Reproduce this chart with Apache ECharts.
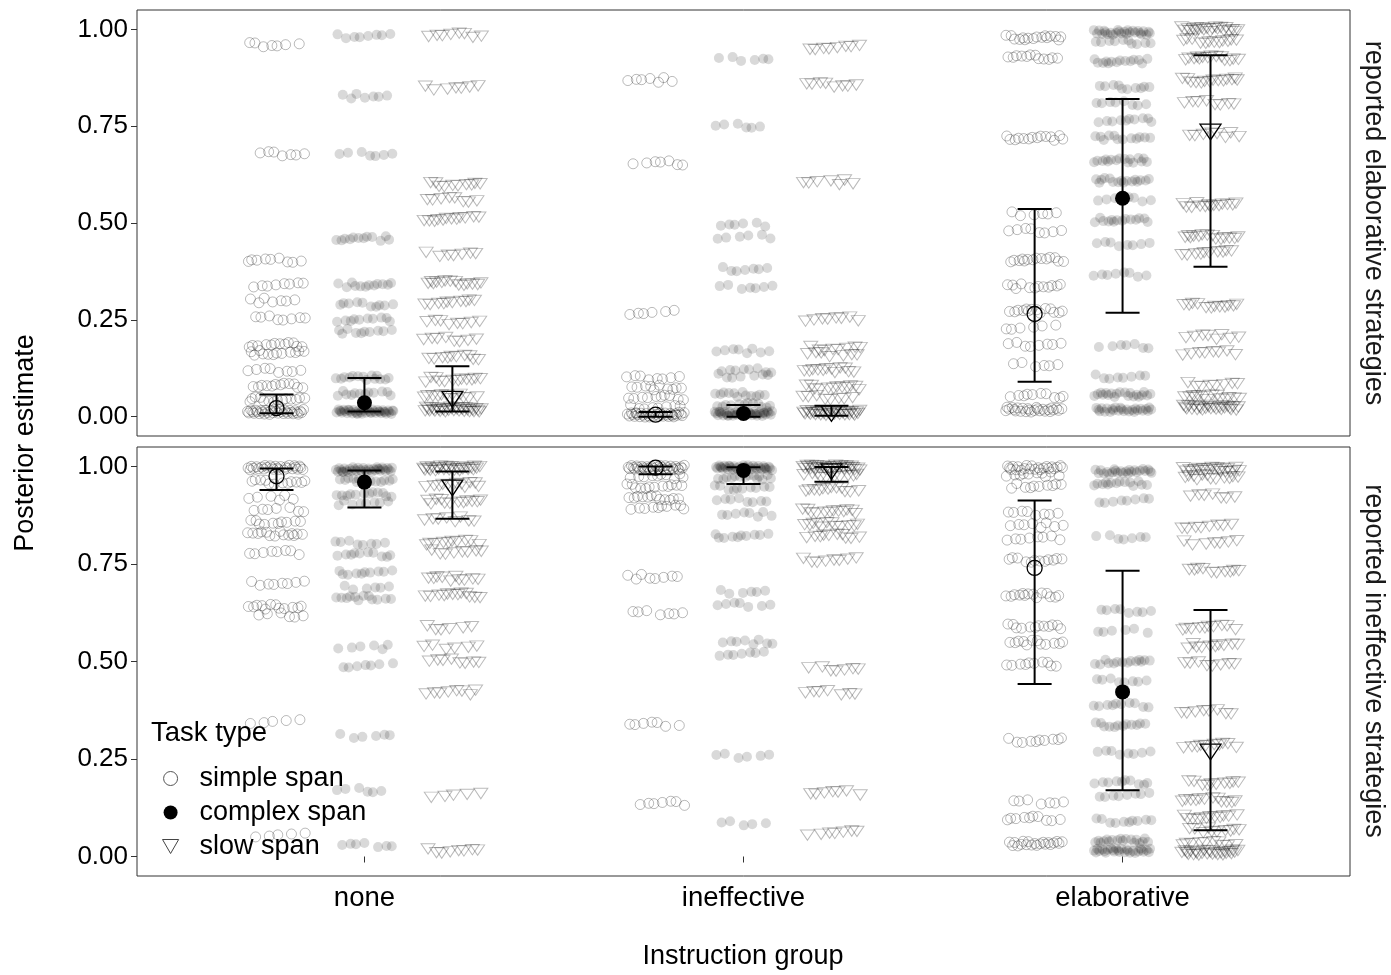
<!DOCTYPE html>
<html>
<head>
<meta charset="utf-8">
<script src="https://cdn.jsdelivr.net/npm/echarts@6/dist/echarts.min.js"></script>
<style>html,body{margin:0;padding:0;background:#fff}#c{width:1391px;height:975px}</style>
</head>
<body>
<div id="c"></div>
<script>
const categories = ['none', 'ineffective', 'elaborative'];
const tasks = ['simple span', 'complex span', 'slow span'];
const panels = ['reported elaborative strategies', 'reported ineffective strategies'];
const yTicks = [0, 0.25, 0.5, 0.75, 1];

// rows of jittered posterior draws: [value, count]
// panel: reported elaborative strategies
const elabNoneSimple = [[0.961,7],[0.678,7],[0.405,9],[0.34,8],[0.30,7],[0.255,8],[0.185,12],[0.165,12],[0.12,8],[0.08,12],[0.045,14],[0.012,34]];
const elabNoneComplex = [[0.982,8],[0.827,7],[0.678,7],[0.46,12],[0.34,12],[0.29,10],[0.25,10],[0.22,10],[0.10,14],[0.06,12],[0.013,42]];
const elabNoneSlow = [[0.985,8],[0.848,7],[0.60,10],[0.56,8],[0.51,12],[0.42,7],[0.345,14],[0.295,10],[0.242,8],[0.20,8],[0.152,10],[0.095,12],[0.052,12],[0.018,34]];
const elabIneffSimple = [[0.869,7],[0.655,7],[0.27,6],[0.10,8],[0.075,10],[0.05,10],[0.025,8],[0.005,36]];
const elabIneffComplex = [[0.923,6],[0.752,6],[0.495,6],[0.465,6],[0.38,7],[0.335,7],[0.17,8],[0.12,8],[0.105,7],[0.057,12],[0.03,12],[0.008,42]];
const elabIneffSlow = [[0.954,8],[0.856,8],[0.605,7],[0.252,8],[0.175,8],[0.16,7],[0.12,12],[0.075,12],[0.05,8],[0.01,34]];
const elabElabSimple = [[0.979,16],[0.928,12],[0.72,14],[0.525,6],[0.48,8],[0.405,14],[0.337,12],[0.273,14],[0.232,6],[0.186,8],[0.135,6],[0.054,10],[0.018,26]];
const elabElabComplex = [[0.992,26],[0.967,10],[0.918,14],[0.85,10],[0.81,8],[0.765,10],[0.72,12],[0.662,16],[0.61,16],[0.56,8],[0.508,14],[0.446,8],[0.366,8],[0.183,7],[0.103,8],[0.057,20],[0.018,26]];
const elabElabSlow = [[1.0,22],[0.97,12],[0.925,14],[0.868,14],[0.81,8],[0.727,8],[0.546,14],[0.464,14],[0.423,10],[0.286,12],[0.206,8],[0.165,8],[0.082,8],[0.049,14],[0.023,26]];
// panel: reported ineffective strategies
const ineffNoneSimple = [[0.997,28],[0.96,12],[0.92,6],[0.89,7],[0.856,10],[0.828,14],[0.78,8],[0.70,8],[0.64,12],[0.62,6],[0.345,5],[0.055,5]];
const ineffNoneComplex = [[0.992,36],[0.964,14],[0.928,12],[0.907,8],[0.805,8],[0.774,10],[0.727,10],[0.69,6],[0.663,12],[0.537,6],[0.49,7],[0.31,6],[0.17,6],[0.03,7]];
const ineffNoneSlow = [[0.995,28],[0.953,12],[0.91,12],[0.864,8],[0.805,10],[0.78,8],[0.712,10],[0.67,12],[0.586,6],[0.537,6],[0.5,8],[0.42,8],[0.156,5],[0.015,8]];
const ineffIneffSimple = [[0.997,34],[0.975,10],[0.95,12],[0.92,12],[0.895,10],[0.717,8],[0.625,7],[0.34,7],[0.136,7]];
const ineffIneffComplex = [[0.997,38],[0.972,14],[0.946,10],[0.913,8],[0.877,8],[0.822,10],[0.68,6],[0.645,7],[0.55,8],[0.52,7],[0.257,6],[0.085,5]];
const ineffIneffSlow = [[0.997,32],[0.977,10],[0.94,12],[0.885,12],[0.85,12],[0.822,10],[0.76,8],[0.48,7],[0.42,7],[0.162,7],[0.06,7]];
const ineffElabSimple = [[0.997,22],[0.98,10],[0.95,10],[0.88,8],[0.85,8],[0.817,8],[0.76,12],[0.67,14],[0.59,12],[0.548,12],[0.494,10],[0.298,10],[0.139,7],[0.098,10],[0.033,20]];
const ineffElabComplex = [[0.987,24],[0.956,14],[0.913,8],[0.818,7],[0.63,8],[0.578,6],[0.499,14],[0.452,8],[0.388,10],[0.337,12],[0.267,8],[0.19,10],[0.157,8],[0.092,10],[0.04,18],[0.015,28]];
const ineffElabSlow = [[0.992,22],[0.972,12],[0.925,7],[0.846,8],[0.805,7],[0.733,10],[0.586,10],[0.54,10],[0.494,8],[0.37,8],[0.285,10],[0.188,10],[0.144,12],[0.1,12],[0.067,10],[0.033,10],[0.01,26]];

// posterior means and intervals, one value per instruction group
const elabMeanSimple = [0.022, 0.005, 0.265];
const elabLoSimple = [0.009, 0.0, 0.09];
const elabHiSimple = [0.057, 0.012, 0.536];
const elabMeanComplex = [0.036, 0.008, 0.564];
const elabLoComplex = [0.013, 0.0, 0.268];
const elabHiComplex = [0.10, 0.03, 0.82];
const elabMeanSlow = [0.045, 0.008, 0.735];
const elabLoSlow = [0.013, 0.002, 0.387];
const elabHiSlow = [0.13, 0.028, 0.933];

const ineffMeanSimple = [0.975, 0.997, 0.74];
const ineffLoSimple = [0.94, 0.98, 0.442];
const ineffHiSimple = [0.995, 1.0, 0.913];
const ineffMeanComplex = [0.96, 0.99, 0.422];
const ineffLoComplex = [0.895, 0.955, 0.17];
const ineffHiComplex = [0.99, 0.998, 0.733];
const ineffMeanSlow = [0.945, 0.987, 0.268];
const ineffLoSlow = [0.866, 0.961, 0.067];
const ineffHiSlow = [0.987, 0.999, 0.632];

// ---- assembly ----
const rowsByPanel = [
  [[elabNoneSimple, elabNoneComplex, elabNoneSlow],
   [elabIneffSimple, elabIneffComplex, elabIneffSlow],
   [elabElabSimple, elabElabComplex, elabElabSlow]],
  [[ineffNoneSimple, ineffNoneComplex, ineffNoneSlow],
   [ineffIneffSimple, ineffIneffComplex, ineffIneffSlow],
   [ineffElabSimple, ineffElabComplex, ineffElabSlow]]
];
const meansByPanel = [
  [[elabMeanSimple, elabLoSimple, elabHiSimple], [elabMeanComplex, elabLoComplex, elabHiComplex], [elabMeanSlow, elabLoSlow, elabHiSlow]],
  [[ineffMeanSimple, ineffLoSimple, ineffHiSimple], [ineffMeanComplex, ineffLoComplex, ineffHiComplex], [ineffMeanSlow, ineffLoSlow, ineffHiSlow]]
];

const DODGE = [-0.232, 0, 0.232];
const TRI = 'path://M0,0L2,0L1,1.732Z';
const FONT = '"Liberation Sans", Arial, sans-serif';

const pointStyle = [
  {symbol: 'circle', size: 10, itemStyle: {opacity: 1, color: 'rgba(0,0,0,0)', borderColor: 'rgba(0,0,0,0.27)', borderWidth: 1}},
  {symbol: 'circle', size: 10, itemStyle: {opacity: 1, color: 'rgba(0,0,0,0.15)', borderWidth: 0}},
  {symbol: TRI, size: [14, 12], itemStyle: {opacity: 1, color: 'rgba(0,0,0,0)', borderColor: 'rgba(0,0,0,0.27)', borderWidth: 1}}
];
const meanStyle = [
  {symbol: 'circle', size: 15, itemStyle: {opacity: 1, color: 'rgba(255,255,255,0)', borderColor: '#000', borderWidth: 1.3}},
  {symbol: 'circle', size: 15, itemStyle: {opacity: 1, color: '#000', borderWidth: 0}},
  {symbol: TRI, size: [21, 18], itemStyle: {opacity: 1, color: 'rgba(255,255,255,0)', borderColor: '#000', borderWidth: 1.3}}
];

function frac(v) { return v - Math.floor(v); }

const series = [];
for (let p = 0; p < 2; p++) {
  for (let t = 0; t < 3; t++) {
    const data = [];
    for (let c = 0; c < 3; c++) {
      const rows = rowsByPanel[p][c][t];
      let k = 0;
      const seed = 0.13 * (c + 1) + 0.29 * (t + 1) + 0.41 * p;
      rows.forEach(r => {
        for (let i = 0; i < r[1]; i++) {
          const dx = (frac(k * 0.6180339 + seed) - 0.5) * 58;
          const dy = (frac(k * 0.4142136 + seed * 1.7) - 0.5) * 5;
          data.push({value: [c + 1 + DODGE[t], r[0]], symbolOffset: [dx, dy]});
          k++;
        }
      });
    }
    series.push({
      type: 'scatter', name: tasks[t], xAxisIndex: p, yAxisIndex: p,
      symbol: pointStyle[t].symbol, symbolSize: pointStyle[t].size, symbolKeepAspect: true,
      itemStyle: pointStyle[t].itemStyle, data: data, z: 2, silent: true,
      large: false, progressive: 0
    });
  }
  for (let t = 0; t < 3; t++) {
    const m = meansByPanel[p][t];
    const ebData = [0, 1, 2].map(c => [c + 1 + DODGE[t], m[1][c], m[2][c]]);
    series.push({
      type: 'custom', xAxisIndex: p, yAxisIndex: p, z: 3, silent: true,
      data: ebData,
      encode: {x: 0, y: [1, 2]},
      renderItem: function (params, api) {
        const x = api.value(0);
        const lo = api.coord([x, api.value(1)]);
        const hi = api.coord([x, api.value(2)]);
        const w = 17;
        const st = {stroke: '#000', lineWidth: 2};
        return {type: 'group', children: [
          {type: 'line', shape: {x1: lo[0], y1: lo[1], x2: hi[0], y2: hi[1]}, style: st},
          {type: 'line', shape: {x1: hi[0] - w, y1: hi[1], x2: hi[0] + w, y2: hi[1]}, style: st},
          {type: 'line', shape: {x1: lo[0] - w, y1: lo[1], x2: lo[0] + w, y2: lo[1]}, style: st}
        ]};
      }
    });
    series.push({
      type: 'scatter', xAxisIndex: p, yAxisIndex: p, z: 4, silent: true,
      symbol: meanStyle[t].symbol, symbolSize: meanStyle[t].size, symbolKeepAspect: true,
      itemStyle: meanStyle[t].itemStyle,
      data: [0, 1, 2].map(c => [c + 1 + DODGE[t], m[0][c]])
    });
  }
}

const grids = [
  {left: 137, top: 10, width: 1213, height: 426, show: true, borderColor: '#333', borderWidth: 1, backgroundColor: 'transparent'},
  {left: 137, top: 447, width: 1213, height: 429, show: true, borderColor: '#333', borderWidth: 1, backgroundColor: 'transparent'}
];
const xAxes = [0, 1].map(p => ({
  type: 'value', gridIndex: p, min: 0.4, max: 3.6,
  splitLine: {show: false}, axisLine: {show: false},
  axisTick: {show: p === 1, customValues: [1, 2, 3], length: 6, lineStyle: {color: '#333'}},
  axisLabel: {show: p === 1, customValues: [1, 2, 3], margin: 8,
    formatter: v => categories[Math.round(v) - 1], color: '#000', fontSize: 27.5, fontFamily: FONT}
}));
const yAxes = [0, 1].map(p => ({
  type: 'value', gridIndex: p, min: -0.05, max: 1.05,
  splitLine: {show: false}, axisLine: {show: false},
  axisTick: {show: true, customValues: yTicks, length: 6, lineStyle: {color: '#333'}},
  axisLabel: {customValues: yTicks, margin: 9, formatter: v => v.toFixed(2),
    color: '#000', fontSize: 26, fontFamily: FONT}
}));

const option = {
  animation: false,
  backgroundColor: '#fff',
  grid: grids, xAxis: xAxes, yAxis: yAxes,
  legend: {
    left: 157, top: 760, orient: 'vertical', selectedMode: false,
    itemWidth: 48, itemHeight: 14, itemGap: 7,
    textStyle: {fontSize: 27, fontFamily: FONT, color: '#000', lineHeight: 26},
    data: [
      {name: 'simple span', icon: 'circle', itemStyle: {opacity: 1, color: '#fff', borderColor: '#555', borderWidth: 1}},
      {name: 'complex span', icon: 'circle', itemStyle: {opacity: 1, color: '#000', borderWidth: 0}},
      {name: 'slow span', icon: TRI, itemStyle: {opacity: 1, color: '#fff', borderColor: '#444', borderWidth: 1}}
    ]
  },
  graphic: [
    {type: 'text', left: 151, top: 719, style: {text: 'Task type', fontSize: 27.5, fontFamily: FONT, fill: '#000'}},
    {type: 'text', x: 1373, y: 223, rotation: -Math.PI / 2,
      style: {text: panels[0], fontSize: 27, fontFamily: FONT, fill: '#1a1a1a', textAlign: 'center', textVerticalAlign: 'middle'}},
    {type: 'text', x: 1373, y: 661, rotation: -Math.PI / 2,
      style: {text: panels[1], fontSize: 27, fontFamily: FONT, fill: '#1a1a1a', textAlign: 'center', textVerticalAlign: 'middle'}},
    {type: 'text', x: 26, y: 443, rotation: Math.PI / 2,
      style: {text: 'Posterior estimate', fontSize: 27, fontFamily: FONT, fill: '#000', textAlign: 'center', textVerticalAlign: 'middle'}},
    {type: 'text', x: 743, y: 957,
      style: {text: 'Instruction group', fontSize: 27, fontFamily: FONT, fill: '#000', textAlign: 'center', textVerticalAlign: 'middle'}}
  ],
  series: series
};

const chart = echarts.init(document.getElementById('c'), null, {renderer: 'canvas'});
chart.setOption(option);
</script>
</body>
</html>
